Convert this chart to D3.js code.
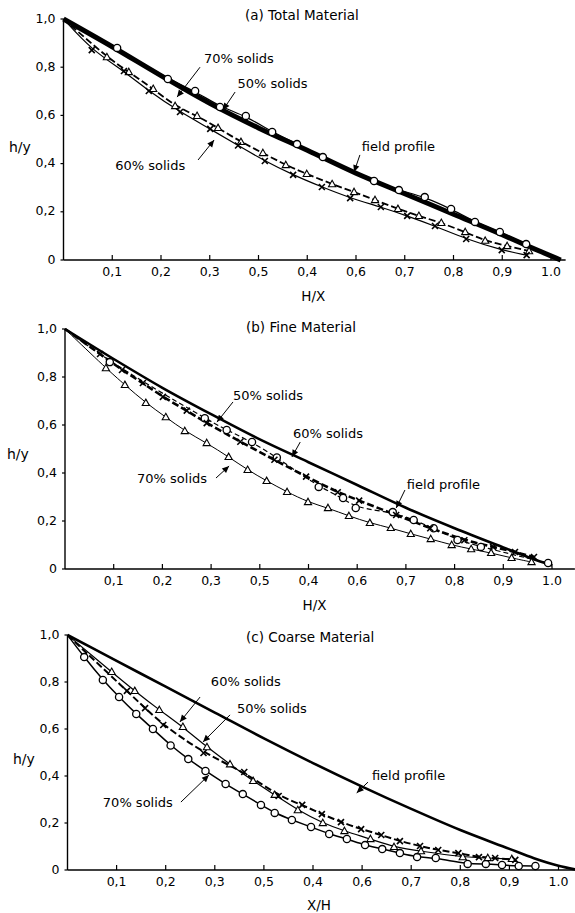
<!DOCTYPE html>
<html><head><meta charset="utf-8">
<script src="https://cdn.jsdelivr.net/npm/d3@7"></script>
<style>
html,body{margin:0;padding:0;background:#fff;}
text{font-family:"DejaVu Sans","Liberation Sans",Arial,sans-serif;fill:#000;}
</style></head>
<body><div id="chart"></div>
<script>
// ---------- shared tick data ----------
const xTickValues = [0.1,0.2,0.3,0.4,0.5,0.6,0.7,0.8,0.9,1.0];
const xTickLabels = ["0,1","0,2","0,3","0,5","0,4","0,6","0,7","0,8","0,9","1.0"];
const yTickValues = [0,0.2,0.4,0.6,0.8,1.0];
const yTickLabels = ["0","0,2","0,4","0,6","0,8","1,0"];
const origin = [0,1];

// ---------- (a) Total Material ----------
const aField = [[0,1],[0.1,0.885],[0.2,0.765],[0.3,0.65],[0.4,0.548],[0.5,0.455],[0.6,0.36],[0.7,0.275],[0.8,0.19],[0.9,0.105],[0.95,0.06],[1.02,0]];
const aCircles = [[0.110,0.88],[0.214,0.751],[0.270,0.701],[0.321,0.635],[0.374,0.598],[0.428,0.531],[0.479,0.481],[0.532,0.427],[0.637,0.328],[0.688,0.290],[0.741,0.261],[0.795,0.212],[0.844,0.158],[0.895,0.116],[0.949,0.066]];
const aTriangles = [[0.089,0.842],[0.134,0.780],[0.184,0.710],[0.229,0.639],[0.274,0.598],[0.317,0.548],[0.364,0.490],[0.409,0.444],[0.456,0.394],[0.499,0.357],[0.551,0.315],[0.596,0.282],[0.639,0.249],[0.686,0.212],[0.729,0.183],[0.775,0.154],[0.824,0.116],[0.865,0.08],[0.910,0.058],[0.955,0.037]];
const aCrosses = [[0.058,0.871],[0.124,0.784],[0.175,0.701],[0.239,0.614],[0.301,0.544],[0.358,0.475],[0.413,0.411],[0.471,0.353],[0.530,0.303],[0.588,0.257],[0.651,0.220],[0.705,0.183],[0.762,0.141],[0.826,0.087],[0.899,0.041],[0.95,0.02]];
const aNotes = [
  {t:"70% solids", tx:0.288, ty:0.83, x1:0.28, y1:0.80, x2:0.233, y2:0.676},
  {t:"50% solids", tx:0.357, ty:0.727, x1:0.352, y1:0.697, x2:0.327, y2:0.622},
  {t:"60% solids", tx:0.106, ty:0.39, x1:0.276, y1:0.415, x2:0.309, y2:0.498},
  {t:"field profile", tx:0.612, ty:0.468, x1:0.608, y1:0.436, x2:0.596, y2:0.365}
];

// ---------- (b) Fine Material ----------
const bField = [[0,1],[0.1,0.875],[0.2,0.755],[0.3,0.645],[0.4,0.54],[0.5,0.445],[0.6,0.35],[0.7,0.255],[0.8,0.17],[0.9,0.09],[0.97,0.035],[1.0,0.015]];
const bCircles = [[0.092,0.862],[0.287,0.628],[0.332,0.579],[0.384,0.529],[0.435,0.465],[0.521,0.342],[0.571,0.296],[0.597,0.254],[0.673,0.237],[0.716,0.204],[0.757,0.170],[0.806,0.121],[0.854,0.092],[0.992,0.025]];
const bCrosses = [[0.072,0.896],[0.117,0.829],[0.160,0.775],[0.201,0.717],[0.25,0.66],[0.291,0.608],[0.36,0.53],[0.43,0.455],[0.495,0.385],[0.56,0.32],[0.604,0.285],[0.68,0.225],[0.75,0.17],[0.82,0.12],[0.879,0.092],[0.924,0.071],[0.963,0.050]];
const bTriangles = [[0.084,0.837],[0.123,0.767],[0.166,0.692],[0.207,0.633],[0.246,0.575],[0.291,0.525],[0.336,0.467],[0.375,0.413],[0.414,0.367],[0.456,0.321],[0.499,0.279],[0.540,0.254],[0.583,0.221],[0.626,0.192],[0.669,0.171],[0.710,0.146],[0.751,0.125],[0.794,0.100],[0.834,0.083],[0.875,0.067],[0.917,0.046],[0.958,0.029]];
const bNotes = [
  {t:"50% solids", tx:0.345, ty:0.717, x1:0.345, y1:0.696, x2:0.312, y2:0.612},
  {t:"60% solids", tx:0.468, ty:0.5625, x1:0.483, y1:0.529, x2:0.466, y2:0.467},
  {t:"70% solids", tx:0.148, ty:0.371, x1:0.310, y1:0.379, x2:0.337, y2:0.429},
  {t:"field profile", tx:0.702, ty:0.35, x1:0.698, y1:0.329, x2:0.680, y2:0.254}
];

// ---------- (c) Coarse Material ----------
const cField = [[0,1],[0.1,0.89],[0.2,0.78],[0.3,0.67],[0.4,0.56],[0.5,0.455],[0.6,0.355],[0.7,0.26],[0.8,0.17],[0.9,0.09],[0.95,0.05],[1.0,0.018],[1.04,0]];
const cCircles = [[0.034,0.906],[0.072,0.809],[0.105,0.736],[0.140,0.664],[0.174,0.600],[0.210,0.530],[0.246,0.472],[0.281,0.421],[0.322,0.366],[0.357,0.323],[0.394,0.277],[0.422,0.243],[0.457,0.213],[0.496,0.183],[0.533,0.153],[0.569,0.132],[0.606,0.106],[0.641,0.089],[0.677,0.072],[0.712,0.055],[0.750,0.051],[0.815,0.026],[0.852,0.026],[0.885,0.021],[0.919,0.017],[0.953,0.017]];
const cTriangles = [[0.09,0.843],[0.137,0.762],[0.187,0.681],[0.235,0.609],[0.284,0.523],[0.331,0.45],[0.378,0.379],[0.422,0.32],[0.469,0.255],[0.520,0.200],[0.564,0.166],[0.617,0.132],[0.665,0.098],[0.72,0.08],[0.805,0.055],[0.856,0.051],[0.905,0.047]];
const cCrosses = [[0.121,0.762],[0.158,0.689],[0.195,0.617],[0.277,0.498],[0.360,0.417],[0.430,0.315],[0.478,0.277],[0.518,0.238],[0.557,0.204],[0.598,0.174],[0.639,0.149],[0.677,0.123],[0.718,0.102],[0.755,0.085],[0.796,0.072],[0.838,0.055],[0.871,0.051],[0.912,0.043]];
const cNotes = [
  {t:"60% solids", tx:0.292, ty:0.796, x1:0.27, y1:0.736, x2:0.229, y2:0.63},
  {t:"50% solids", tx:0.345, ty:0.681, x1:0.331, y1:0.66, x2:0.276, y2:0.545},
  {t:"field profile", tx:0.62, ty:0.396, x1:0.612, y1:0.374, x2:0.589, y2:0.328},
  {t:"70% solids", tx:0.072, ty:0.285, x1:0.231, y1:0.289, x2:0.288, y2:0.404}
];

// ---------- layout ----------
const panels = [
  {title:"(a) Total Material", xLabel:"H/X", field:aField, fieldW:5,
   series:[{d:aCircles,m:"circle",w:1.2,dash:null},{d:aTriangles,m:"tri",w:1.8,dash:"7,3"},{d:aCrosses,m:"x",w:1.2,dash:null}],
   notes:aNotes, g:{x0:63.5,x1:551,y0:260,y1:19,xEnd:1.03,tX:245,tY:16,hX:9,hY:152,xlY:297}},
  {title:"(b) Fine Material", xLabel:"H/X", field:bField, fieldW:2.6,
   series:[{d:bCircles,m:"circle",w:1.2,dash:"5,3"},{d:bCrosses,m:"x",w:2.6,dash:"7,3"},{d:bTriangles,m:"tri",w:1.0,dash:null}],
   notes:bNotes, g:{x0:65,x1:552,y0:569,y1:329,xEnd:1.047,tX:246,tY:328,hX:7,hY:459,xlY:606}},
  {title:"(c) Coarse Material", xLabel:"X/H", field:cField, fieldW:2.6,
   series:[{d:cCircles,m:"circle",w:1.5,dash:null},{d:cTriangles,m:"tri",w:1.2,dash:null},{d:cCrosses,m:"x",w:2.0,dash:"7,3"}],
   notes:cNotes, g:{x0:67.5,x1:558.5,y0:870,y1:635,xEnd:1.034,tX:246,tY:638,hX:13,hY:764,xlY:906}}
];

const svg = d3.select("#chart").append("svg").attr("width",575).attr("height",913);
svg.append("defs").append("marker").attr("id","ah").attr("viewBox","0 0 10 10")
  .attr("refX",10).attr("refY",5).attr("markerWidth",9).attr("markerHeight",7)
  .attr("markerUnits","userSpaceOnUse").attr("orient","auto")
  .append("path").attr("d","M0,0.5L10,5L0,9.5z").attr("fill","#000");

panels.forEach(p=>{
  const g = p.g;
  const x = d3.scaleLinear().domain([0,1]).range([g.x0,g.x1]);
  const y = d3.scaleLinear().domain([0,1]).range([g.y0,g.y1]);
  const G = svg.append("g");

  // axes
  G.append("line").attr("x1",x(0)).attr("x2",x(g.xEnd)).attr("y1",y(0)).attr("y2",y(0)).attr("stroke","#000").attr("stroke-width",1.4);
  G.append("line").attr("x1",x(0)).attr("x2",x(0)).attr("y1",y(0)).attr("y2",y(1)).attr("stroke","#000").attr("stroke-width",1.4);
  xTickValues.forEach((v,i)=>{
    G.append("line").attr("x1",x(v)).attr("x2",x(v)).attr("y1",y(0)).attr("y2",y(0)-5).attr("stroke","#000").attr("stroke-width",1.2);
    G.append("text").attr("x",x(v)).attr("y",y(0)+12).attr("text-anchor","middle").attr("dominant-baseline","middle")
      .attr("font-size",12.5).text(xTickLabels[i]);
  });
  yTickValues.forEach((v,i)=>{
    G.append("line").attr("x1",x(0)-3).attr("x2",x(0)).attr("y1",y(v)).attr("y2",y(v)).attr("stroke","#000").attr("stroke-width",1.2);
    G.append("text").attr("x",x(0)-8).attr("y",y(v)).attr("text-anchor","end").attr("dominant-baseline","middle")
      .attr("font-size",12.5).text(yTickLabels[i]);
  });
  // titles
  G.append("text").attr("x",g.tX).attr("y",g.tY).attr("dominant-baseline","middle").attr("font-size",13.5).text(p.title);
  G.append("text").attr("x",(x(0)+x(1))/2+6).attr("y",g.xlY).attr("text-anchor","middle").attr("dominant-baseline","middle").attr("font-size",13.5).text(p.xLabel);
  G.append("text").attr("x",g.hX).attr("y",g.hY).attr("font-size",14).text("h/y");

  // field profile
  const fline = d3.line().x(d=>x(d[0])).y(d=>y(d[1])).curve(d3.curveMonotoneX);
  G.append("path").attr("d",fline(p.field)).attr("fill","none").attr("stroke","#000").attr("stroke-width",p.fieldW).attr("stroke-linejoin","round");

  // series lines
  const sline = d3.line().x(d=>x(d[0])).y(d=>y(d[1])).curve(d3.curveBasis);
  p.series.forEach(s=>{
    G.append("path").attr("d",sline([origin].concat(s.d))).attr("fill","none").attr("stroke","#000")
      .attr("stroke-width",s.w).attr("stroke-dasharray",s.dash);
  });
  // markers
  p.series.forEach(s=>{
    const mg = G.append("g");
    s.d.forEach(d=>{
      const cx = x(d[0]), cy = y(d[1]);
      if(s.m==="circle"){
        mg.append("circle").attr("cx",cx).attr("cy",cy).attr("r",3.6).attr("fill","#fff").attr("stroke","#000").attr("stroke-width",1.3);
      } else if(s.m==="tri"){
        mg.append("path").attr("transform",`translate(${cx},${cy})`).attr("d","M0,-3.8L3.6,2.6L-3.6,2.6Z").attr("fill","#fff").attr("stroke","#000").attr("stroke-width",1.1);
      } else {
        mg.append("path").attr("transform",`translate(${cx},${cy})`).attr("d","M-3,-3L3,3M-3,3L3,-3").attr("stroke","#000").attr("stroke-width",1.6);
      }
    });
  });
  // annotations
  p.notes.forEach(n=>{
    G.append("line").attr("x1",x(n.x1)).attr("y1",y(n.y1)).attr("x2",x(n.x2)).attr("y2",y(n.y2))
      .attr("stroke","#000").attr("stroke-width",1).attr("marker-end","url(#ah)");
    G.append("text").attr("x",x(n.tx)).attr("y",y(n.ty)).attr("dominant-baseline","middle").attr("font-size",13).text(n.t);
  });
});
</script></body></html>
